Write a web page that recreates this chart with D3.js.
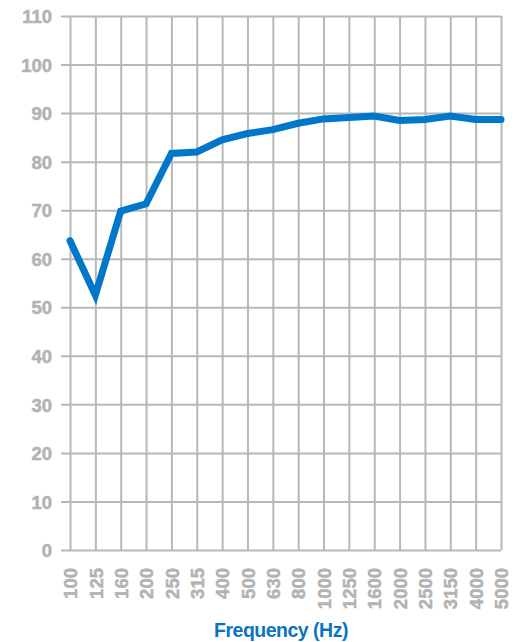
<!DOCTYPE html>
<html><head><meta charset="utf-8">
<script src="https://cdn.jsdelivr.net/npm/d3@7/dist/d3.min.js"></script>
<style>
html,body{margin:0;padding:0;background:#fff;}
</style></head>
<body><svg id="c" width="522" height="642"></svg>
<script>
const categories = ["100","125","160","200","250","315","400","500","630","800","1000","1250","1600","2000","2500","3150","4000","5000"];
const values = [63.7,52.5,69.8,71.3,81.7,82.0,84.5,85.8,86.6,87.9,88.8,89.1,89.4,88.5,88.7,89.4,88.7,88.7];
const yTicks = [0,10,20,30,40,50,60,70,80,90,100,110];
const xTitle = "Frequency (Hz)";

const svg = d3.select("#c");
const mLeft = 70, mRight = 501, mTop = 16, mBottom = 550;
const x = d3.scalePoint().domain(categories).range([mLeft, mRight]);
const y = d3.scaleLinear().domain([0,110]).range([mBottom, mTop]);
const gridColor = "#b8b8b8", textColor = "#b3b3b3";
const tickFont = "'Liberation Sans',Arial,sans-serif";
const titleFont = "'Liberation Sans',Arial,sans-serif";

// horizontal grid + y labels
const ya = svg.append("g").attr("transform",`translate(${mLeft},0)`)
  .call(d3.axisLeft(y).tickValues(yTicks).tickSize(-(mRight-mLeft)).tickSizeOuter(0).tickPadding(18).tickFormat(d3.format("d")));
ya.select(".domain").remove();
ya.selectAll(".tick line").attr("stroke",gridColor).attr("stroke-width",2).attr("x1",-9);
ya.selectAll(".tick text").attr("fill",textColor).attr("stroke",textColor).attr("stroke-width",0.5)
  .style("font-family",tickFont).style("font-weight","bold").style("font-size","18.5px").attr("dy","0.36em");

// vertical grid + x labels
const xa = svg.append("g").attr("transform",`translate(0,${mBottom})`)
  .call(d3.axisBottom(x).tickSize(-(mBottom-mTop)).tickSizeOuter(0).tickPadding(0));
xa.select(".domain").remove();
xa.selectAll(".tick line").attr("stroke",gridColor).attr("stroke-width",2);
xa.selectAll(".tick text").attr("fill",textColor).attr("stroke",textColor).attr("stroke-width",0.5)
  .style("font-family",tickFont).style("font-weight","bold").style("font-size","18.5px")
  .attr("transform","rotate(-90)").attr("text-anchor","end").attr("x",-18).attr("y",0).attr("dy","0.36em");

// line
const line = d3.line().x((d,i)=>x(categories[i])).y(d=>y(d));
svg.append("path").datum(values).attr("d",line).attr("fill","none")
  .attr("stroke","#0077c8").attr("stroke-width",7).attr("stroke-linejoin","miter").attr("stroke-linecap","round");

// title
svg.append("text").attr("x",281).attr("y",637).attr("text-anchor","middle")
  .attr("fill","#0a74c2").style("font-family",titleFont).style("font-weight","bold").style("font-size","19.5px").style("letter-spacing","-0.5px").text(xTitle);
</script></body></html>
